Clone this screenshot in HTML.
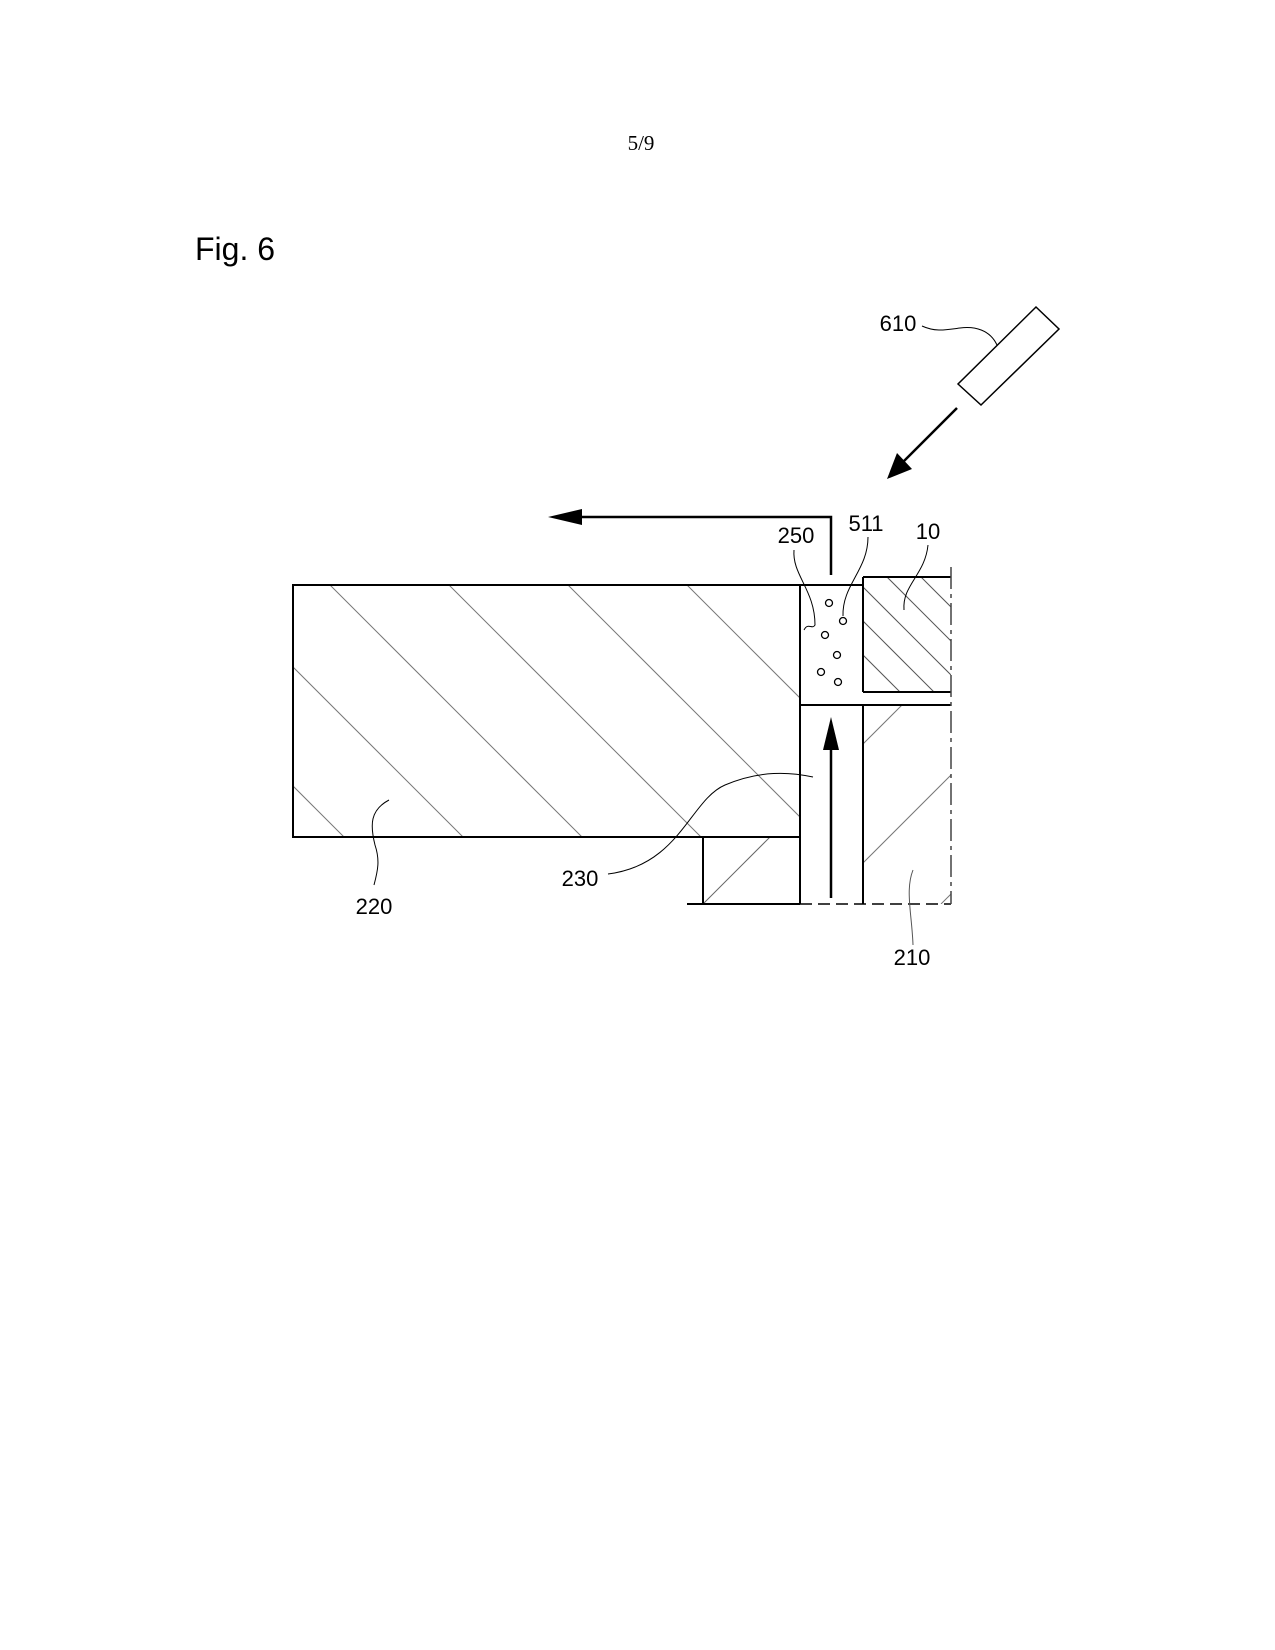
<!DOCTYPE html>
<html><head><meta charset="utf-8"><style>
html,body{margin:0;padding:0;background:#fff}
svg{display:block}
text{font-family:"Liberation Sans",sans-serif;fill:#000}
</style></head><body>
<svg width="1275" height="1650" viewBox="0 0 1275 1650" xmlns="http://www.w3.org/2000/svg">
<defs>
<clipPath id="c220"><rect x="293" y="585" width="507" height="252"/></clipPath>
<clipPath id="c10"><rect x="863" y="577" width="88" height="115"/></clipPath>
<clipPath id="c210"><rect x="863" y="705" width="88" height="199"/></clipPath>
<clipPath id="csm"><rect x="703" y="837" width="97" height="67"/></clipPath>
</defs>
<text x="641" y="150" font-family="Liberation Serif" font-size="21" text-anchor="middle" style="font-family:'Liberation Serif',serif">5/9</text>
<text x="195" y="260" font-size="32">Fig. 6</text>

<!-- hatching 220 -->
<g clip-path="url(#c220)" stroke="#777" stroke-width="1">
<line x1="687" y1="585" x2="987" y2="885"/>
<line x1="568" y1="585" x2="868" y2="885"/>
<line x1="449" y1="585" x2="749" y2="885"/>
<line x1="330" y1="585" x2="630" y2="885"/>
<line x1="211" y1="585" x2="511" y2="885"/>
<line x1="92" y1="585" x2="392" y2="885"/>
</g>
<g clip-path="url(#c10)" stroke="#555" stroke-width="1">
<line x1="887" y1="577" x2="1007" y2="697"/>
<line x1="921" y1="577" x2="1041" y2="697"/>
<line x1="853" y1="577" x2="973" y2="697"/>
<line x1="819" y1="577" x2="939" y2="697"/>
<line x1="785" y1="577" x2="905" y2="697"/>
</g>
<g clip-path="url(#c210)" stroke="#777" stroke-width="1">
<line x1="863" y1="744" x2="902" y2="705"/>
<line x1="863" y1="863" x2="951" y2="775"/>
<line x1="941" y1="904" x2="951" y2="894"/>
</g>
<g clip-path="url(#csm)" stroke="#666" stroke-width="1">
<line x1="703" y1="904" x2="772" y2="835"/>
</g>

<g stroke="#000" stroke-width="2" fill="none">
<rect x="293" y="585" width="507" height="252"/>
<line x1="800" y1="585" x2="863" y2="585"/>
<line x1="800" y1="585" x2="800" y2="904"/>
<line x1="863" y1="577" x2="863" y2="692"/>
<line x1="863" y1="577" x2="951" y2="577"/>
<line x1="863" y1="692" x2="951" y2="692"/>
<line x1="800" y1="705" x2="951" y2="705"/>
<line x1="863" y1="705" x2="863" y2="904"/>
<line x1="703" y1="837" x2="703" y2="904"/>
<line x1="687" y1="904" x2="800" y2="904"/>
</g>
<g stroke="#000" stroke-width="1.5" fill="none">
<line x1="800" y1="904" x2="951" y2="904" stroke-dasharray="12,6"/>
<line x1="951" y1="567" x2="951" y2="904" stroke-dasharray="22,5,4,5" stroke="#444"/>
</g>

<!-- particles -->
<g stroke="#000" stroke-width="1.3" fill="#fff">
<circle cx="829" cy="603" r="3.5"/><circle cx="843" cy="621" r="3.5"/>
<circle cx="825" cy="635" r="3.5"/><circle cx="837" cy="655" r="3.5"/>
<circle cx="821" cy="672" r="3.5"/><circle cx="838" cy="682" r="3.5"/>
</g>

<!-- arrows -->
<g stroke="#000" stroke-width="2.5" fill="none">
<line x1="831" y1="898" x2="831" y2="745"/>
<polyline points="831,575 831,517 580,517"/>
<line x1="957" y1="408" x2="900" y2="465"/>
</g>
<polygon points="831,717 823,750 839,750" fill="#000"/>
<polygon points="548,517 582,509 582,525" fill="#000"/>
<polygon points="887,479 897,453 912,469" fill="#000"/>

<!-- 610 source -->
<polygon points="958,384 981,405 1059,329 1036,307" fill="#fff" stroke="#000" stroke-width="1.5"/>

<!-- leaders -->
<g stroke="#000" stroke-width="1" fill="none">
<path d="M922,326 C935,332 945,330 960,328 C975,326 990,330 997,345"/>
<path d="M794,550 C792,575 815,590 815,625 C812,630 808,622 804,630"/>
<path d="M868,537 C868,570 842,585 843,616"/>
<path d="M928,545 C925,575 902,585 904,610"/>
<path d="M608,874 C680,865 690,800 725,785 C760,770 790,772 813,777"/>
<path d="M389,800 C370,810 370,825 375,845 C380,860 378,870 374,885"/>
<path d="M913,870 C905,890 912,915 913,945" stroke="#555"/>
</g>

<g font-size="22" text-anchor="middle">
<text x="898" y="331">610</text>
<text x="796" y="543">250</text>
<text x="866" y="531">511</text>
<text x="928" y="539">10</text>
<text x="580" y="886">230</text>
<text x="374" y="914">220</text>
<text x="912" y="965">210</text>
</g>
</svg>
</body></html>
